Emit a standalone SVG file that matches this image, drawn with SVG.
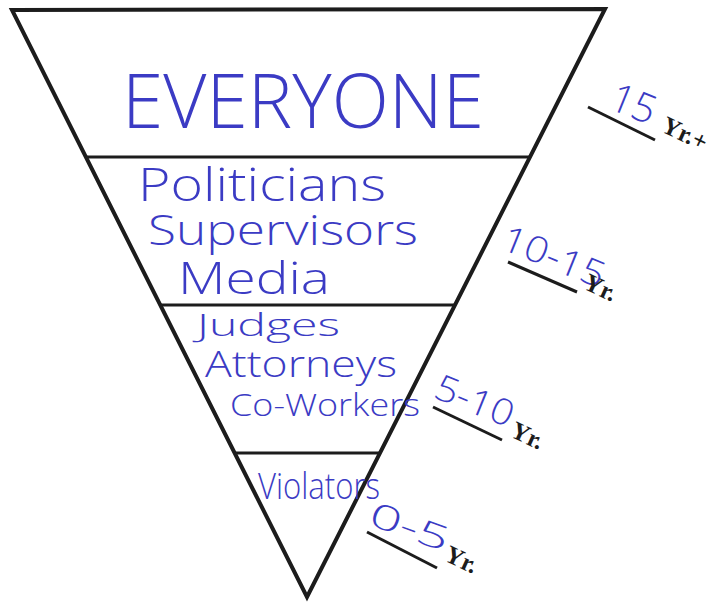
<svg xmlns="http://www.w3.org/2000/svg" width="710" height="603" viewBox="0 0 710 603">
  <style>
    .edge { fill: none; stroke: #1c1c1c; stroke-width: 4; stroke-linejoin: miter; }
    .tier { fill: none; stroke: #1c1c1c; stroke-width: 3; }
    .hand { fill: #3b3bc4; font-family: "Open Sans", "Lato", "Liberation Sans", sans-serif; font-weight: 300; }
    .yr { fill: #1c1c1c; font-family: "Liberation Serif", "Times New Roman", serif; font-weight: bold; font-size: 25px; }
    .ul { stroke: #1c1c1c; stroke-width: 3; }
  </style>
  <rect width="710" height="603" fill="#ffffff"/>

  <!-- inverted pyramid outline -->
  <g id="pyramid">
    <polygon class="edge" points="12,10 605,9 307,597"/>
  </g>

  <!-- dividing lines between tiers -->
  <g id="dividers">
    <line class="tier" x1="86" y1="157" x2="531" y2="157"/>
    <line class="tier" x1="160" y1="305" x2="455" y2="305"/>
    <line class="tier" x1="234" y1="453" x2="381" y2="453"/>
  </g>

  <!-- tier 1 -->
  <g id="tier-everyone">
    <text class="hand" x="122" y="128" font-size="76" textLength="362" lengthAdjust="spacingAndGlyphs">EVERYONE</text>
  </g>

  <!-- tier 2 -->
  <g id="tier-public">
    <text class="hand" x="138" y="201" font-size="46" textLength="248" lengthAdjust="spacingAndGlyphs">Politicians</text>
    <text class="hand" x="148" y="245" font-size="42" textLength="270" lengthAdjust="spacingAndGlyphs">Supervisors</text>
    <text class="hand" x="178" y="294" font-size="44" textLength="152" lengthAdjust="spacingAndGlyphs">Media</text>
  </g>

  <!-- tier 3 -->
  <g id="tier-legal">
    <text class="hand" x="197" y="336" font-size="32" textLength="143" lengthAdjust="spacingAndGlyphs">Judges</text>
    <text class="hand" x="205" y="377" font-size="36" textLength="192" lengthAdjust="spacingAndGlyphs">Attorneys</text>
    <text class="hand" x="230" y="416" font-size="32" textLength="190" lengthAdjust="spacingAndGlyphs">Co-Workers</text>
  </g>

  <!-- tier 4 -->
  <g id="tier-violators">
    <text class="hand" x="258" y="499" font-size="36" textLength="122" lengthAdjust="spacingAndGlyphs">Violators</text>
  </g>

  <!-- time ranges beside each tier -->
  <g id="range-15">
    <text class="hand" font-size="40" transform="translate(607,108) rotate(22)" textLength="46" lengthAdjust="spacingAndGlyphs">15</text>
    <line class="ul" x1="588" y1="107" x2="655" y2="140"/>
    <text class="yr" transform="translate(660,131) rotate(25)" font-size="23">Yr.+</text>
  </g>
  <g id="range-10-15">
    <text class="hand" font-size="36" transform="translate(499,248) rotate(22)" textLength="108" lengthAdjust="spacingAndGlyphs">10-15</text>
    <line class="ul" x1="508" y1="262" x2="577" y2="292"/>
    <text class="yr" transform="translate(582,288) rotate(25)">Yr.</text>
  </g>
  <g id="range-5-10">
    <text class="hand" font-size="36" transform="translate(432,397) rotate(22)" textLength="82" lengthAdjust="spacingAndGlyphs">5-10</text>
    <line class="ul" x1="433" y1="407" x2="502" y2="440"/>
    <text class="yr" transform="translate(509,436) rotate(25)">Yr.</text>
  </g>
  <g id="range-0-5">
    <text class="hand" font-size="34" transform="translate(367,524) rotate(20)" textLength="82" lengthAdjust="spacingAndGlyphs">0-5</text>
    <line class="ul" x1="367" y1="532" x2="437" y2="568"/>
    <text class="yr" transform="translate(443,560) rotate(25)">Yr.</text>
  </g>
</svg>
